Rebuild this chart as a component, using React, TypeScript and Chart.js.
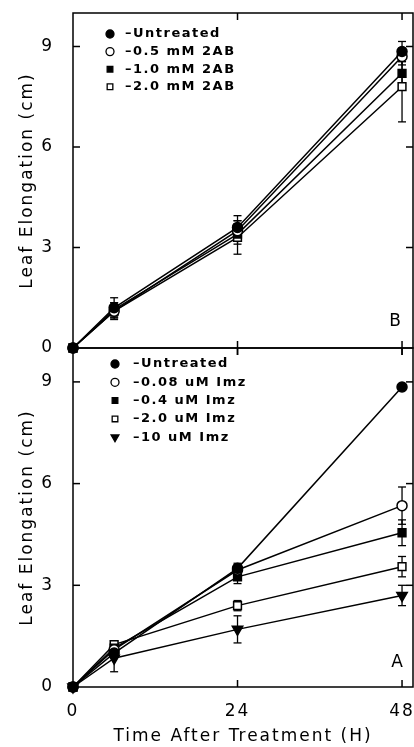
import React, { useEffect, useRef } from 'react';
import { Chart, registerables } from 'chart.js';

Chart.register(...registerables);

// ---- data ----
const hours = [0, 6, 24, 48];
const xTicks = [0, 24, 48];
const yTicks = [0, 3, 6, 9];

// Panel B (2AB)
const labelsB = ['–Untreated', '–0.5 mM 2AB', '–1.0 mM 2AB', '–2.0 mM 2AB'];
const untreatedB = [0, 1.2, 3.6, 8.85];
const untreatedBErr = [0, 0.3, 0.35, 0.3];
const mM05 = [0, 1.1, 3.5, 8.7];
const mM05Err = [0, 0.2, 0.3, 0.25];
const mM10 = [0, 1.15, 3.4, 8.2];
const mM10Err = [0, 0.2, 0.3, 0.35];
const mM20 = [0, 1.1, 3.3, 7.8];
const mM20Err = [0, 0.25, 0.5, 1.05];

// Panel A (Imz)
const labelsA = ['–Untreated', '–0.08 uM Imz', '–0.4 uM Imz', '–2.0 uM Imz', '–10 uM Imz'];
const untreatedA = [0, 1.0, 3.5, 8.85];
const untreatedAErr = [0, 0.1, 0.1, 0.1];
const uM008 = [0, 1.1, 3.45, 5.35];
const uM008Err = [0, 0.1, 0.2, 0.55];
const uM04 = [0, 1.15, 3.25, 4.55];
const uM04Err = [0, 0.1, 0.2, 0.38];
const uM2 = [0, 1.25, 2.4, 3.55];
const uM2Err = [0, 0.1, 0.15, 0.3];
const uM10 = [0, 0.85, 1.7, 2.7];
const uM10Err = [0, 0.4, 0.4, 0.3];

const FONT = "'DejaVu Sans', 'Liberation Sans', sans-serif";

type Marker = { style: string; filled: boolean; radius: number; rotation?: number };
const mCircleF: Marker = { style: 'circle', filled: true, radius: 5 };
const mCircleO: Marker = { style: 'circle', filled: false, radius: 5 };
const mRectF: Marker = { style: 'rect', filled: true, radius: 5.5 };
const mRectO: Marker = { style: 'rect', filled: false, radius: 5.5 };
const mTriF: Marker = { style: 'triangle', filled: true, radius: 6, rotation: 180 };

function makeDataset(label: string, values: number[], errors: number[], m: Marker) {
  return {
    label,
    data: hours.map((h, i) => ({ x: h, y: values[i] })),
    errors,
    marker: m,
    borderColor: '#000',
    borderWidth: 1.5,
    pointStyle: m.style,
    pointRotation: m.rotation || 0,
    pointRadius: m.radius,
    pointBackgroundColor: m.filled ? '#000' : '#fff',
    pointBorderColor: '#000',
    pointBorderWidth: 1.5,
    tension: 0,
    clip: false,
    fill: false,
  };
}

function drawMarker(ctx: CanvasRenderingContext2D, m: Marker, x: number, y: number, r: number) {
  ctx.beginPath();
  if (m.style === 'circle') {
    ctx.arc(x, y, r, 0, Math.PI * 2);
  } else if (m.style === 'rect') {
    const s = r * Math.SQRT1_2;
    ctx.rect(x - s, y - s, 2 * s, 2 * s);
  } else {
    ctx.moveTo(x - r * 0.866, y - r * 0.5);
    ctx.lineTo(x + r * 0.866, y - r * 0.5);
    ctx.lineTo(x, y + r);
    ctx.closePath();
  }
  ctx.fillStyle = m.filled ? '#000' : '#fff';
  ctx.fill();
  ctx.lineWidth = 1.3;
  ctx.strokeStyle = '#000';
  ctx.stroke();
}

const spacingPlugin = {
  id: 'spacing',
  beforeDraw(chart: any) {
    chart.ctx.letterSpacing = '2px';
  },
  afterDraw(chart: any) {
    chart.ctx.letterSpacing = '0px';
  },
};

const framePlugin = {
  id: 'frame',
  beforeDatasetsDraw(chart: any, _a: any, opts: any) {
    const { ctx, chartArea, scales } = chart;
    const { left, right, top, bottom } = chartArea;
    const line = (x1: number, y1: number, x2: number, y2: number) => {
      ctx.beginPath();
      ctx.moveTo(x1, y1);
      ctx.lineTo(x2, y2);
      ctx.stroke();
    };
    ctx.save();
    ctx.strokeStyle = '#000';
    ctx.lineWidth = 1.5;
    ctx.strokeRect(left, top, right - left, bottom - top);
    const L = 7;
    yTicks.forEach((v) => {
      if (v === 0) return;
      const py = scales.y.getPixelForValue(v);
      line(left, py, left + L, py);
      line(right, py, right - L, py);
    });
    xTicks.forEach((v) => {
      if (v === 0) return;
      const px = scales.x.getPixelForValue(v);
      line(px, bottom, px, bottom - L);
      line(px, top, px, top + L);
      if (opts.outTicks) line(px, bottom, px, bottom + L);
    });
    // error bars
    ctx.lineWidth = 1.3;
    chart.data.datasets.forEach((ds: any) => {
      ds.data.forEach((p: any, i: number) => {
        const e = ds.errors[i];
        if (!e) return;
        const px = scales.x.getPixelForValue(p.x);
        const pHi = scales.y.getPixelForValue(p.y + e);
        const pLo = scales.y.getPixelForValue(p.y - e);
        line(px, pHi, px, pLo);
        line(px - 4, pHi, px + 4, pHi);
        line(px - 4, pLo, px + 4, pLo);
      });
    });
    ctx.restore();
  },
  afterDraw(chart: any, _a: any, opts: any) {
    const { ctx } = chart;
    ctx.save();
    ctx.letterSpacing = '1.5px';
    ctx.font = `bold 13px ${FONT}`;
    ctx.textBaseline = 'middle';
    ctx.textAlign = 'left';
    ctx.fillStyle = '#000';
    chart.data.datasets.forEach((ds: any, i: number) => {
      const y = opts.legendY + i * opts.rowH;
      drawMarker(ctx, ds.marker, opts.markerX, y, ds.marker.style === 'triangle' ? 4.5 : 4);
      ctx.fillStyle = '#000';
      ctx.fillText(ds.label, opts.textX, y);
    });
    ctx.letterSpacing = '0px';
    ctx.font = `17px ${FONT}`;
    ctx.textAlign = 'center';
    ctx.fillText(opts.letter, opts.letterX, opts.letterY);
    ctx.restore();
  },
};

function zeroPadding(s: any) {
  s.paddingTop = 0;
  s.paddingBottom = 0;
  s.paddingLeft = 0;
  s.paddingRight = 0;
}

function makeConfig(datasets: any[], bottomPanel: boolean, frameOpts: any): any {
  return {
    type: 'line',
    data: { datasets },
    plugins: [spacingPlugin, framePlugin],
    options: {
      animation: false,
      responsive: false,
      events: [],
      layout: {
        autoPadding: false,
        padding: { top: bottomPanel ? 8 : 13, right: 1, left: 0, bottom: 0 },
      },
      plugins: {
        legend: { display: false },
        tooltip: { enabled: false },
        frame: frameOpts,
      },
      scales: {
        x: {
          type: 'linear',
          min: 0,
          max: 49.6,
          afterBuildTicks: (s: any) => {
            s.ticks = xTicks.map((v) => ({ value: v }));
          },
          afterFit: (s: any) => {
            s.height = bottomPanel ? 60 : 12;
            zeroPadding(s);
          },
          grid: { display: false },
          border: { display: false },
          ticks: {
            display: bottomPanel,
            color: '#000',
            padding: 6,
            maxRotation: 0,
            font: { family: FONT, size: 17 },
          },
          title: {
            display: bottomPanel,
            text: 'Time After Treatment (H)',
            color: '#000',
            padding: { top: 0, bottom: 0 },
            font: { family: FONT, size: 17 },
          },
        },
        y: {
          type: 'linear',
          min: 0,
          max: 10,
          afterBuildTicks: (s: any) => {
            s.ticks = yTicks.map((v) => ({ value: v }));
          },
          afterFit: (s: any) => {
            s.width = 73;
            zeroPadding(s);
          },
          grid: { display: false },
          border: { display: false },
          ticks: {
            color: '#000',
            padding: 11,
            font: { family: FONT, size: 17 },
          },
          title: {
            display: true,
            text: 'Leaf Elongation (cm)',
            color: '#000',
            padding: { top: 17, bottom: 0 },
            font: { family: FONT, size: 17 },
          },
        },
      },
    },
  };
}

export default function App() {
  const topRef = useRef<HTMLCanvasElement>(null);
  const botRef = useRef<HTMLCanvasElement>(null);

  useEffect(() => {
    const dsB = [
      makeDataset(labelsB[0], untreatedB, untreatedBErr, mCircleF),
      makeDataset(labelsB[1], mM05, mM05Err, mCircleO),
      makeDataset(labelsB[2], mM10, mM10Err, mRectF),
      makeDataset(labelsB[3], mM20, mM20Err, mRectO),
    ];
    const dsA = [
      makeDataset(labelsA[0], untreatedA, untreatedAErr, mCircleF),
      makeDataset(labelsA[1], uM008, uM008Err, mCircleO),
      makeDataset(labelsA[2], uM04, uM04Err, mRectF),
      makeDataset(labelsA[3], uM2, uM2Err, mRectO),
      makeDataset(labelsA[4], uM10, uM10Err, mTriF),
    ];
    const top = new Chart(
      topRef.current as HTMLCanvasElement,
      makeConfig(dsB, false, {
        outTicks: true,
        markerX: 110,
        textX: 125,
        legendY: 34,
        rowH: 17.6,
        letter: 'B',
        letterX: 395,
        letterY: 322,
      })
    );
    const bot = new Chart(
      botRef.current as HTMLCanvasElement,
      makeConfig(dsA, true, {
        outTicks: false,
        markerX: 115,
        textX: 133,
        legendY: 24,
        rowH: 18.3,
        letter: 'A',
        letterX: 397,
        letterY: 323,
      })
    );
    return () => {
      top.destroy();
      bot.destroy();
    };
  }, []);

  return (
    <div
      style={{
        position: 'fixed',
        left: 0,
        top: 0,
        width: 414,
        height: 747,
        background: '#fff',
        overflow: 'hidden',
      }}
    >
      <canvas
        ref={botRef}
        width={414}
        height={407}
        style={{ position: 'absolute', left: 0, top: 340, width: 414, height: 407 }}
      />
      <canvas
        ref={topRef}
        width={414}
        height={360}
        style={{ position: 'absolute', left: 0, top: 0, width: 414, height: 360 }}
      />
    </div>
  );
}
